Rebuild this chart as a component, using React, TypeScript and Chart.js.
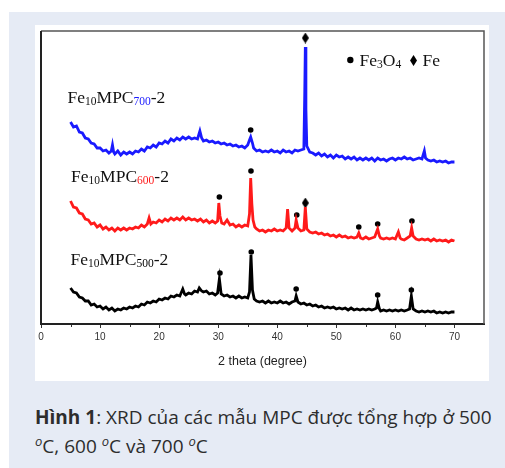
import React, { useEffect, useRef } from 'react';
import { Chart, registerables } from 'chart.js';
Chart.register(...registerables);

// 2θ (degree) vs. intensity (arbitrary units, offset traces)
const sample700: [number, number][] = [
  [5.0,202],[5.5,197],[6.0,198],[6.5,192],[7.0,191],[7.5,186],[8.0,185],[8.5,181],[9.0,180],[9.5,176],
  [10.0,176],[10.5,173],[11.0,174],[11.5,171],[11.9,173],[12.1,179],[12.3,172],[12.5,170],[13.0,173],[13.5,169],
  [14.0,172],[14.5,170],[15.0,172],[15.5,170],[16.0,173],[16.5,172],[17.0,175],[17.5,173],[18.0,177],[18.5,176],
  [19.0,179],[19.5,177],[20.0,181],[20.5,180],[21.0,183],[21.5,181],[22.0,185],[22.5,183],[23.0,186],[23.5,184],
  [24.0,187],[24.5,185],[25.0,187],[25.5,185],[26.0,186],[26.5,185],[26.9,193],[27.2,186],[27.5,183],[28.0,184],
  [28.5,182],[29.0,183],[29.5,181],[30.0,182],[30.5,180],[31.0,181],[31.5,179],[32.0,180],[32.5,178],[33.0,179],
  [33.5,177],[34.0,178],[34.5,176],[35.0,179],[35.3,184],[35.5,187],[35.8,181],[36.0,176],[36.5,173],[37.0,174],
  [37.5,172],[38.0,173],[38.5,172],[39.0,174],[39.5,172],[40.0,173],[40.5,171],[41.0,174],[41.5,172],[42.0,173],
  [42.5,171],[43.0,174],[43.5,173],[44.0,174],[44.5,175],[44.65,230],[44.75,277],[44.85,215],[45.0,178],[45.5,172],
  [46.0,171],[46.5,169],[47.0,171],[47.5,168],[48.0,170],[48.5,167],[49.0,169],[49.5,166],[50.0,169],[50.5,167],
  [51.0,168],[51.5,165],[52.0,167],[52.5,165],[53.0,167],[53.5,164],[54.0,166],[54.5,164],[55.0,166],[55.5,164],
  [56.0,166],[56.5,163],[57.0,166],[57.5,164],[58.0,165],[58.5,163],[59.0,165],[59.5,166],[60.0,164],[60.5,166],
  [61.0,165],[61.5,167],[62.0,165],[62.5,166],[63.0,164],[63.5,165],[64.0,166],[64.5,165],[64.9,173],[65.1,166],
  [65.5,164],[66.0,163],[66.5,164],[67.0,162],[67.5,163],[68.0,162],[68.5,163],[69.0,161],[69.5,162],[70.0,162],
];

const sample600: [number, number][] = [
  [5.0,123],[5.5,117],[6.0,116],[6.5,111],[7.0,110],[7.5,105],[8.0,104],[8.5,100],[9.0,101],[9.5,97],
  [10.0,99],[10.5,95],[11.0,97],[11.5,94],[12.0,96],[12.5,93],[13.0,96],[13.5,94],[14.0,96],[14.5,94],
  [15.0,96],[15.5,95],[16.0,97],[16.5,96],[17.0,99],[17.5,97],[18.0,100],[18.3,106],[18.6,100],[19.0,102],
  [19.5,101],[20.0,104],[20.5,102],[21.0,105],[21.5,103],[22.0,106],[22.5,104],[23.0,106],[23.5,104],[24.0,107],
  [24.5,104],[25.0,106],[25.5,104],[26.0,105],[26.5,103],[27.0,105],[27.5,102],[28.0,104],[28.5,101],[29.0,103],
  [29.5,101],[29.9,103],[30.1,121],[30.3,108],[30.6,101],[31.0,100],[31.5,104],[32.0,99],[32.5,100],[33.0,97],
  [33.5,99],[34.0,97],[34.5,99],[35.0,98],[35.3,110],[35.5,146],[35.7,120],[35.9,104],[36.2,97],[36.5,95],
  [37.0,93],[37.5,94],[38.0,92],[38.5,94],[39.0,93],[39.5,95],[40.0,93],[40.5,94],[41.0,93],[41.5,96],
  [41.75,115],[42.0,96],[42.5,93],[43.0,96],[43.2,104],[43.5,96],[44.0,93],[44.5,94],[44.75,117],[45.0,95],
  [45.5,92],[46.0,91],[46.5,92],[47.0,90],[47.5,91],[48.0,89],[48.5,90],[49.0,88],[49.5,89],[50.0,87],
  [50.5,89],[51.0,87],[51.5,88],[52.0,86],[52.5,87],[53.0,86],[53.5,87],[53.8,91],[54.1,86],[54.5,85],
  [55.0,87],[55.5,85],[56.0,86],[56.5,87],[57.0,95],[57.3,88],[57.5,86],[58.0,85],[58.5,86],[59.0,85],
  [59.5,86],[60.0,85],[60.5,92],[60.8,86],[61.0,85],[61.5,84],[62.0,86],[62.5,88],[62.75,96],[63.0,88],
  [63.5,85],[64.0,84],[64.5,85],[65.0,84],[65.5,85],[66.0,83],[66.5,85],[67.0,83],[67.5,84],[68.0,83],
  [68.5,84],[69.0,82],[69.5,84],[70.0,83],
];

const sample500: [number, number][] = [
  [5.0,36],[5.5,32],[6.0,31],[6.5,27],[7.0,26],[7.5,23],[8.0,23],[8.5,19],[9.0,20],[9.5,17],
  [10.0,18],[10.5,15],[11.0,17],[11.5,14],[12.0,16],[12.5,13],[13.0,15],[13.5,14],[14.0,16],[14.5,15],
  [15.0,17],[15.5,16],[16.0,18],[16.5,17],[17.0,20],[17.5,19],[18.0,22],[18.5,21],[19.0,23],[19.5,22],
  [20.0,25],[20.5,24],[21.0,26],[21.5,25],[22.0,28],[22.5,27],[23.0,29],[23.5,28],[24.0,35],[24.3,30],
  [24.5,29],[25.0,31],[25.5,30],[26.0,33],[26.5,32],[26.8,36],[27.2,33],[27.5,32],[28.0,33],[28.5,30],
  [29.0,31],[29.5,29],[29.9,31],[30.2,45],[30.5,30],[31.0,28],[31.5,29],[32.0,27],[32.5,28],[33.0,26],
  [33.5,28],[34.0,26],[34.5,27],[35.0,26],[35.3,32],[35.55,69],[35.8,34],[36.1,25],[36.5,23],[37.0,22],
  [37.5,23],[38.0,21],[38.5,23],[39.0,21],[39.5,22],[40.0,21],[40.5,23],[41.0,21],[41.5,22],[42.0,20],
  [42.5,22],[43.0,23],[43.2,28],[43.5,22],[44.0,20],[44.5,21],[45.0,19],[45.5,20],[46.0,18],[46.5,19],
  [47.0,17],[47.5,18],[48.0,16],[48.5,17],[49.0,16],[49.5,17],[50.0,15],[50.5,16],[51.0,15],[51.5,16],
  [52.0,14],[52.5,16],[53.0,14],[53.5,15],[54.0,14],[54.5,15],[55.0,14],[55.5,15],[56.0,14],[56.5,15],
  [56.8,16],[57.0,22],[57.3,15],[57.5,13],[58.0,14],[58.5,13],[59.0,14],[59.5,13],[60.0,14],[60.5,13],
  [61.0,14],[61.5,13],[62.0,14],[62.4,15],[62.7,28],[63.0,15],[63.5,13],[64.0,12],[64.5,13],[65.0,12],
  [65.5,13],[66.0,12],[66.5,13],[67.0,11],[67.5,12],[68.0,11],[68.5,12],[69.0,11],[69.5,12],[70.0,12],
];

// phase markers above the peaks
const fe3o4Marks: [number, number][] = [
  [35.5,194],
  [30.2,127],[35.55,153],[43.3,109],[53.8,97],[57.0,100],[62.8,103],
  [30.3,51],[35.6,72],[43.2,35],[57.0,29],[62.7,34],
];
const feMarks: [number, number][] = [[44.75,286],[44.75,121]];

const xMajorTicks = [0, 10, 20, 30, 40, 50, 60, 70];
const xMinorTicks = [5, 15, 25, 35, 45, 55, 65];
const xAxisTitle = '2 theta (degree)';
const sampleNames = ['700', '600', '500'];
const sampleColors = ['#1a1aff', '#ff1a1a', '#000000'];
const legendItems = ['Fe3O4', 'Fe'];

type Part = { t: string; sub?: boolean; color: string };

function drawRich(ctx: CanvasRenderingContext2D, x: number, y: number, parts: Part[]) {
  let cx = x;
  for (const p of parts) {
    ctx.font = p.sub ? '11.5px "Liberation Serif"' : '17.5px "Liberation Serif"';
    ctx.fillStyle = p.color;
    ctx.fillText(p.t, cx, p.sub ? y + 2 : y);
    cx += ctx.measureText(p.t).width;
  }
  return cx;
}

function makeDiamond() {
  const c = document.createElement('canvas');
  c.width = 7;
  c.height = 11;
  const g = c.getContext('2d')!;
  g.fillStyle = '#000';
  g.beginPath();
  g.moveTo(3.5, 0);
  g.lineTo(7, 5.5);
  g.lineTo(3.5, 11);
  g.lineTo(0, 5.5);
  g.closePath();
  g.fill();
  return c;
}

const annotations = {
  id: 'xrdAnnotations',
  afterDatasetsDraw(chart: any) {
    const ctx: CanvasRenderingContext2D = chart.ctx;
    const xs = chart.scales.x;
    const ys = chart.scales.y;
    const { left, top, right, bottom } = chart.chartArea;
    ctx.save();
    // frame
    ctx.strokeStyle = '#555';
    ctx.lineWidth = 1.5;
    ctx.beginPath();
    ctx.moveTo(left, top);
    ctx.lineTo(right, top);
    ctx.lineTo(right, bottom);
    ctx.stroke();
    ctx.strokeStyle = '#222';
    ctx.lineWidth = 2;
    ctx.beginPath();
    ctx.moveTo(left, bottom);
    ctx.lineTo(left, top);
    ctx.stroke();
    // minor ticks
    ctx.strokeStyle = '#333';
    ctx.lineWidth = 1;
    ctx.beginPath();
    xMinorTicks.forEach((v) => {
      const px = Math.round(xs.getPixelForValue(v)) + 0.5;
      ctx.moveTo(px, bottom + 1);
      ctx.lineTo(px, bottom + 3);
    });
    ctx.stroke();

    // sample labels
    ctx.textBaseline = 'alphabetic';
    ctx.textAlign = 'left';
    const labelPos: [number, number][] = [[4.5, 221], [5.1, 142], [5.0, 59]];
    sampleNames.forEach((n, i) => {
      const [dx, dy] = labelPos[i];
      drawRich(ctx, xs.getPixelForValue(dx), ys.getPixelForValue(dy), [
        { t: 'Fe', color: '#111' },
        { t: '10', sub: true, color: '#111' },
        { t: 'MPC', color: '#111' },
        { t: n, sub: true, color: sampleColors[i] },
        { t: '-2', color: '#111' },
      ]);
    });

    // legend
    const ly = ys.getPixelForValue(258);
    ctx.fillStyle = '#000';
    ctx.beginPath();
    ctx.arc(xs.getPixelForValue(52.37), ly - 6, 3.2, 0, Math.PI * 2);
    ctx.fill();
    drawRich(ctx, xs.getPixelForValue(53.94), ly, [
      { t: 'Fe', color: '#111' },
      { t: legendItems[0].slice(2, 3), sub: true, color: '#111' },
      { t: 'O', color: '#111' },
      { t: legendItems[0].slice(4, 5), sub: true, color: '#111' },
    ]);
    const dxp = xs.getPixelForValue(63.07);
    ctx.fillStyle = '#000';
    ctx.beginPath();
    ctx.moveTo(dxp, ly - 11);
    ctx.lineTo(dxp + 3.5, ly - 5.5);
    ctx.lineTo(dxp, ly);
    ctx.lineTo(dxp - 3.5, ly - 5.5);
    ctx.closePath();
    ctx.fill();
    drawRich(ctx, xs.getPixelForValue(64.6), ly, [{ t: legendItems[1], color: '#111' }]);
    ctx.restore();
  },
};

export default function App() {
  const ref = useRef<HTMLCanvasElement>(null);
  useEffect(() => {
    if (!ref.current) return;
    const diamond = makeDiamond();
    const toPts = (a: [number, number][]) => a.map(([x, y]) => ({ x, y }));
    const chart = new Chart(ref.current, {
      type: 'line',
      data: {
        datasets: [
          { data: toPts(sample700), borderColor: sampleColors[0], borderWidth: 2.8, pointRadius: 0, tension: 0 },
          { data: toPts(sample600), borderColor: sampleColors[1], borderWidth: 2.8, pointRadius: 0, tension: 0 },
          { data: toPts(sample500), borderColor: sampleColors[2], borderWidth: 2.8, pointRadius: 0, tension: 0 },
          {
            data: toPts(fe3o4Marks), showLine: false, pointStyle: 'circle', pointRadius: 2.8,
            pointBackgroundColor: '#000', pointBorderColor: '#000', pointBorderWidth: 0,
          },
          {
            data: toPts(feMarks), showLine: false, pointStyle: diamond as any, pointRadius: 4,
          },
        ] as any,
      },
      options: {
        responsive: false,
        animation: false,
        events: [],
        layout: { padding: { left: 6, right: 4, top: 6, bottom: 0 } },
        plugins: { legend: { display: false }, tooltip: { enabled: false } },
        scales: {
          x: {
            type: 'linear',
            min: 0,
            max: 75,
            afterFit: (s: any) => { s.height = 57; },
            afterBuildTicks: (s: any) => {
              s.ticks = xMajorTicks.map((v) => ({ value: v }));
            },
            ticks: {
              autoSkip: false,
              maxRotation: 0,
              padding: 3,
              color: '#333',
              font: { family: '"Liberation Sans", Arial, sans-serif', size: 10 },
              callback: (v: any) => String(v),
            },
            grid: { drawOnChartArea: false, drawTicks: true, tickLength: 4, color: '#333', lineWidth: 1 },
            border: { display: true, color: '#222', width: 2 },
            title: {
              display: true,
              text: xAxisTitle,
              color: '#222',
              font: { family: '"Liberation Sans", Arial, sans-serif', size: 12.5 },
              padding: { top: 0, bottom: 12 },
            },
          },
          y: { type: 'linear', min: 0, max: 293, display: false },
        },
      } as any,
      plugins: [annotations],
    });
    return () => chart.destroy();
  }, []);

  const sup = { fontSize: '13px', fontStyle: 'italic' as const, verticalAlign: '7px', lineHeight: 0 };
  return (
    <div style={{ position: 'fixed', left: 0, top: 0, width: 505, height: 468, background: '#ffffff', overflow: 'hidden' }}>
      <div style={{ position: 'absolute', left: 9, top: 12, width: 496, height: 456, background: '#e6ebf5' }} />
      <div style={{ position: 'absolute', left: 35, top: 25, width: 454, height: 356, background: '#ffffff' }}>
        <canvas ref={ref} width={454} height={356} style={{ width: 454, height: 356, display: 'block' }} />
      </div>
      <div
        style={{
          position: 'absolute', left: 35, top: 403, font: '19px "Open Sans", "Noto Sans", sans-serif',
          lineHeight: '28.5px', color: '#2d2d2d', whiteSpace: 'nowrap',
        }}
      >
        <b>Hình 1</b>: XRD của các mẫu MPC được tổng hợp ở 500
        <br />
        <span style={sup}>o</span>C, 600 <span style={sup}>o</span>C và 700 <span style={sup}>o</span>C
      </div>
    </div>
  );
}
